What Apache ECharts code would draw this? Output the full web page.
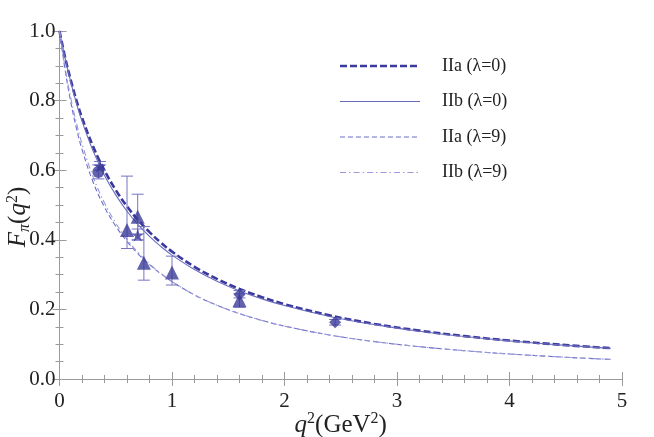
<!DOCTYPE html>
<html>
<head>
<meta charset="utf-8">
<script src="https://cdn.jsdelivr.net/npm/echarts@6/dist/echarts.min.js"></script>
<style>
html,body{margin:0;padding:0;background:#fff;}
#c{width:654px;height:437px;}
</style>
</head>
<body>
<div id="c"></div>
<script>
// q^2 sample points (GeV^2)
var qGrid = [0, 0.05, 0.1, 0.15, 0.2, 0.3, 0.4, 0.5, 0.6, 0.7, 0.8, 0.9, 1.0, 1.2, 1.4, 1.6, 1.8, 2.0, 2.4, 2.8, 3.2, 3.6, 4.0, 4.5, 4.9];
// curves
var IIa0 = [1.000, 0.924, 0.859, 0.801, 0.751, 0.667, 0.599, 0.543, 0.496, 0.456, 0.422, 0.392, 0.366, 0.3225, 0.2876, 0.259, 0.2352, 0.215, 0.1828, 0.1582, 0.1389, 0.1233, 0.1105, 0.0974, 0.0887];
var IIb0 = [1.000, 0.922, 0.854, 0.793, 0.741, 0.654, 0.585, 0.529, 0.482, 0.443, 0.410, 0.381, 0.356, 0.3145, 0.2806, 0.253, 0.2302, 0.211, 0.1798, 0.1562, 0.1373, 0.1220, 0.1095, 0.0966, 0.0880];
var IIa9 = [1.000, 0.888, 0.796, 0.7215, 0.660, 0.5645, 0.494, 0.439, 0.3956, 0.3591, 0.3289, 0.3026, 0.280, 0.2417, 0.2118, 0.1879, 0.1683, 0.152, 0.1265, 0.1075, 0.0929, 0.0813, 0.0719, 0.0625, 0.0563];
var IIb9 = [1.000, 0.894, 0.808, 0.7365, 0.676, 0.5795, 0.506, 0.448, 0.4016, 0.3631, 0.3309, 0.3036, 0.280, 0.2417, 0.2118, 0.1879, 0.1683, 0.152, 0.1265, 0.1075, 0.0929, 0.0813, 0.0719, 0.0625, 0.0563];

// experimental points: [q2, F, low, high]
var circlePts  = [[0.345, 0.595, 0.575, 0.615]];
var starPts    = [[0.36, 0.612, 0.600, 0.625], [0.695, 0.414, 0.399, 0.431]];
var trianglePts= [[0.60, 0.428, 0.375, 0.583], [0.695, 0.466, 0.400, 0.531], [0.75, 0.334, 0.284, 0.438], [1.0, 0.306, 0.270, 0.353], [1.6, 0.226, 0.206, 0.245]];
var diamondPts = [[1.6, 0.243, 0.233, 0.254], [2.45, 0.163, 0.155, 0.171]];

var legendNames = ['IIa (λ=0)', 'IIb (λ=0)', 'IIa (λ=9)', 'IIb (λ=9)'];

function pairs(xs, ys){ return xs.map(function(x,i){ return [x, ys[i]]; }); }

var dark = '#3b3b98';
var fontFam = '"Liberation Serif","DejaVu Serif",serif';
var frame = '#9a9a9a';
var styles = [
  {color:'#3a3a9e', width:2.6, type:[7,3]},
  {color:'#6b6bbd', width:1.1, type:'solid'},
  {color:'#6c6cd0', width:1.1, type:[5,3]},
  {color:'#9a9ad6', width:1.1, type:[6,3,1.5,3]}
];
var curves = [IIa0, IIb0, IIa9, IIb9];

var allErr = circlePts.concat(starPts, trianglePts, diamondPts);

var chart = echarts.init(document.getElementById('c'), null, {renderer:'canvas'});

function axisBase(split){
  return {
    axisLine:{show:true, lineStyle:{color:frame, width:1}},
    axisTick:{show:true, inside:true, length:7, lineStyle:{color:frame}},
    minorTick:{show:true, splitNumber:split, length:4, lineStyle:{color:frame}},
    splitLine:{show:false}
  };
}

var nameFs = 25, supFs = 16;
var xa = Object.assign(axisBase(5), {
  type:'value', min:0, max:5, interval:1, position:'bottom',
  name:'{q|q}{sup|2}{t|(GeV}{sup|2}{t|)}', nameLocation:'middle', nameGap:32, nameMoveOverlap:false,
  nameTextStyle:{rich:{q:{fontFamily:fontFam,fontStyle:'italic',fontSize:nameFs,color:'#222'},sup:{fontFamily:fontFam,fontSize:supFs,color:'#222',verticalAlign:'top',padding:[0,0,12,0]},t:{fontFamily:fontFam,fontSize:nameFs,color:'#222'}}},
  axisLabel:{fontFamily:fontFam, fontSize:21, color:'#222', margin:12, formatter:function(v){return String(v);}}
});
var xa2 = Object.assign(axisBase(5), {type:'value', min:0, max:5, interval:1, position:'top', axisLabel:{show:false}});

var ya = Object.assign(axisBase(4), {
  type:'value', min:0, max:1, interval:0.2, position:'left',
  name:'{f|F}{sub|π}{t|(}{q|q}{sup|2}{t|)}', nameLocation:'middle', nameGap:27, nameRotate:90, nameMoveOverlap:false,
  nameTextStyle:{padding:[0,24,0,0], rich:{f:{fontFamily:fontFam,fontStyle:'italic',fontSize:nameFs,color:'#222'},sub:{fontFamily:fontFam,fontStyle:'italic',fontSize:supFs,color:'#222',verticalAlign:'bottom',padding:[9,0,0,0]},q:{fontFamily:fontFam,fontStyle:'italic',fontSize:nameFs,color:'#222'},sup:{fontFamily:fontFam,fontSize:supFs,color:'#222',verticalAlign:'top',padding:[0,0,12,0]},t:{fontFamily:fontFam,fontSize:nameFs,color:'#222'}}},
  axisLabel:{fontFamily:fontFam, fontSize:21, color:'#222', margin:4, formatter:function(v){return v.toFixed(1);}}
});
var ya2 = Object.assign(axisBase(4), {type:'value', min:0, max:1, interval:0.2, position:'right', axisLabel:{show:false}});

function errSeries(){
  return {
    type:'custom', name:'err', silent:true, z:3,
    data: allErr.map(function(p){ return [p[0], p[2], p[3]]; }),
    renderItem:function(params, api){
      var x = api.value(0);
      var lo = api.coord([x, api.value(1)]);
      var hi = api.coord([x, api.value(2)]);
      var w = 6;
      var st = {stroke:'#7474c2', lineWidth:1};
      return {type:'group', children:[
        {type:'line', shape:{x1:lo[0], y1:lo[1], x2:hi[0], y2:hi[1]}, style:st},
        {type:'line', shape:{x1:lo[0]-w, y1:lo[1], x2:lo[0]+w, y2:lo[1]}, style:st},
        {type:'line', shape:{x1:hi[0]-w, y1:hi[1], x2:hi[0]+w, y2:hi[1]}, style:st}
      ]};
    }
  };
}

var starPath = 'path://M50,0 L61,35 L98,35 L68,57 L79,91 L50,70 L21,91 L32,57 L2,35 L39,35 Z';

function scat(name, pts, symbol, size){
  return {type:'scatter', name:name, data:pts.map(function(p){return [p[0],p[1]];}), symbol:symbol, symbolSize:size,
    itemStyle:{color:dark}, z:4, silent:true};
}

// legend drawn as graphic elements
var legendGraphic = [];
legendNames.forEach(function(n, i){
  var y = 66 + i * 35.5;
  var s = styles[i];
  legendGraphic.push({type:'line', shape:{x1:340, y1:y, x2:420, y2:y},
    style:{stroke:s.color, lineWidth:s.width, lineDash:(s.type === 'solid' ? null : s.type)}, silent:true});
  legendGraphic.push({type:'text', x:442, y:y, style:{text:n, font:'18px ' + fontFam, fill:'#222', textVerticalAlign:'middle', verticalAlign:'middle'}, silent:true});
});

var series = curves.map(function(c, i){
  return {type:'line', name:legendNames[i], data:pairs(qGrid, c), symbol:'none', smooth:0.4, z:2, lineStyle:styles[i]};
});
series.push(errSeries());
series.push(scat('circle', circlePts, 'circle', 12));
series.push(scat('star', starPts, starPath, 13));
series.push(scat('triangle', trianglePts, 'triangle', 14));
series.push(scat('diamond', diamondPts, 'diamond', 12));

chart.setOption({
  animation:false,
  backgroundColor:'#fff',
  grid:{left:59.5, right:32, top:31, bottom:58, containLabel:false, outerBoundsMode:'none'},
  xAxis:[xa, xa2],
  yAxis:[ya, ya2],
  graphic:legendGraphic,
  series:series
});
</script>
</body>
</html>
